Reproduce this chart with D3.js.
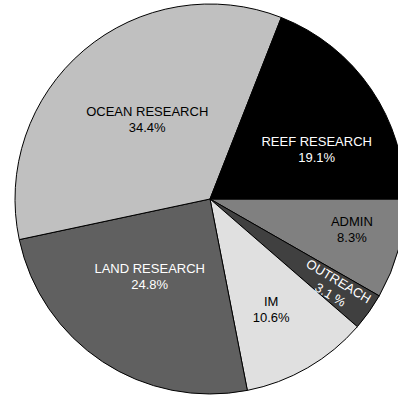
<!DOCTYPE html>
<html><head><meta charset="utf-8">
<script src="https://cdn.jsdelivr.net/npm/d3@7"></script>
<style>html,body{margin:0;padding:0;background:#fff;overflow:hidden}</style>
</head><body>
<svg id="chart" width="398" height="396"></svg>
<script>
const categories = ["ADMIN", "OUTREACH", "IM", "LAND RESEARCH", "OCEAN RESEARCH", "REEF RESEARCH"];
const values = [8.3, 3.1, 10.6, 24.8, 34.4, 19.1];
const valueLabels = ["8.3%", "3.1 %", "10.6%", "24.8%", "34.4%", "19.1%"];
const colors = ["#808080", "#404040", "#e0e0e0", "#606060", "#c0c0c0", "#000000"];
const textColors = ["#000", "#fff", "#000", "#fff", "#000", "#fff"];
const labelRadius = [145, 153, 126, 98, 102, 118];
const labelAngleShift = [-3, 0, 1, 4.5, 2.3, 9];
const labelRotate = [0, 31, 0, 0, 0, 0];

const cx = 210, cy = 199, R = 195;
const svg = d3.select("#chart");
const g = svg.append("g").attr("transform", `translate(${cx},${cy})`);
const data = categories.map((c, i) => ({cat: c, value: values[i], i}));
const pie = d3.pie().value(d => d.value).sort(null)
  .startAngle(Math.PI / 2).endAngle(Math.PI / 2 + 2 * Math.PI);
const arcs = pie(data);
const arc = d3.arc().innerRadius(0).outerRadius(R);

g.selectAll("path.slice").data(arcs).join("path")
  .attr("class", "slice")
  .attr("d", arc)
  .attr("fill", d => colors[d.data.i])
  .attr("stroke", "#000")
  .attr("stroke-width", 1)
  .attr("stroke-linejoin", "round");

const lab = g.selectAll("g.lab").data(arcs).join("g")
  .attr("class", "lab")
  .attr("transform", d => {
    const i = d.data.i;
    const a = (d.startAngle + d.endAngle) / 2 + labelAngleShift[i] * Math.PI / 180;
    const x = labelRadius[i] * Math.sin(a), y = -labelRadius[i] * Math.cos(a);
    return `translate(${x},${y}) rotate(${labelRotate[i]})`;
  })
  .style("font-family", "Arial, 'Liberation Sans', sans-serif")
  .style("font-size", "13px")
  .attr("text-anchor", "middle")
  .attr("fill", d => textColors[d.data.i]);

lab.append("text").attr("y", -3).text(d => d.data.cat);
lab.append("text").attr("y", 13).text(d => valueLabels[d.data.i]);
</script>
</body></html>
